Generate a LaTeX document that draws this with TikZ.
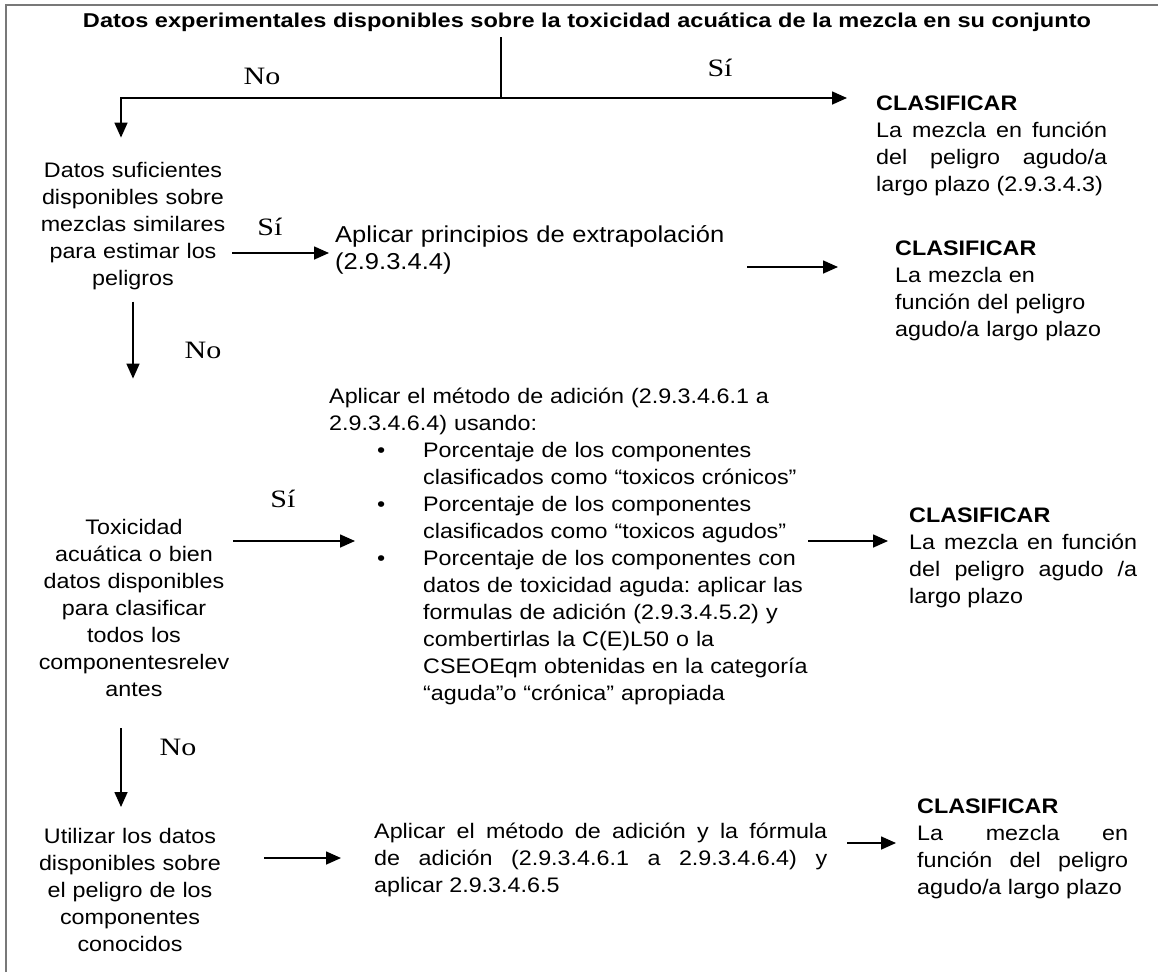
\documentclass[tikz,border=0pt]{standalone}
\usepackage{fontspec}
\usepackage{graphicx}
\usetikzlibrary{arrows.meta}
\newfontfamily\bodyf{Liberation Sans}[FakeStretch=1.11]
\newfontfamily\serifl{Liberation Serif}[FakeStretch=1.2]
\newfontfamily\titlef{Liberation Sans}
\definecolor{framegray}{RGB}{120,120,120}
\newcommand\myitem[1]{\par\hangindent=94pt\hangafter=0\noindent\llap{\textbullet\hspace{38pt}}#1\par}
\frenchspacing
\begin{document}
\begin{tikzpicture}[x=1pt,y=-1pt,
  txt/.style={inner sep=0pt, font=\bodyf\frenchspacing\fontsize{21}{27}\selectfont},
  lbl/.style={inner sep=0pt, font=\serifl\fontsize{25}{30}\selectfont, anchor=base},
  conn/.style={line width=1.6pt, draw=black},
  arr/.style={conn, -{Triangle[length=15pt,width=13pt]}},
  framel/.style={line width=1.8pt, draw=framegray}
]
\useasboundingbox (0,0) rectangle (1158,972);
\draw[framel] (6,972) -- (6,5) -- (1158,5);

% title
\node[inner sep=0pt, anchor=base] (title) at (587,27)
  {\resizebox{1008pt}{\height}{\titlef\bfseries\fontsize{20}{23}\selectfont Datos experimentales disponibles sobre la toxicidad acuática de la mezcla en su conjunto}};

% nodes
\node[txt, anchor=base west, text width=231pt, align=justify] (c1) at (876,110)
  {\textbf{CLASIFICAR}\\La mezcla en función\linebreak del peligro agudo/a\linebreak largo plazo (2.9.3.4.3)};
\node[txt, anchor=base, text width=198pt, align=center] (n1) at (133,177)
  {Datos suficientes\\disponibles sobre\\mezclas similares\\para estimar los\\peligros};
\node[txt, anchor=base west, text width=413pt, align=left,
      font=\bodyf\fontsize{23}{27}\selectfont] (b2) at (335,242)
  {Aplicar principios de extrapolación\\(2.9.3.4.4)};
\node[txt, anchor=base west, text width=220pt, align=left] (c2) at (895,255)
  {\textbf{CLASIFICAR}\\La mezcla en\\función del peligro\\agudo/a largo plazo};
\node[txt, anchor=base west, text width=479pt, align=left] (b3) at (329,403)
  {Aplicar el método de adición (2.9.3.4.6.1 a\\2.9.3.4.6.4) usando:
   \myitem{Porcentaje de los componentes\newline clasificados como “toxicos crónicos”}
   \myitem{Porcentaje de los componentes\newline clasificados como “toxicos agudos”}
   \myitem{Porcentaje de los componentes con\newline datos de toxicidad aguda: aplicar las\newline formulas de adición (2.9.3.4.5.2) y\newline combertirlas la C(E)L50 o la\newline CSEOEqm obtenidas en la categoría\newline “aguda”o “crónica” apropiada}};
\node[txt, anchor=base, text width=198pt, align=center] (n2) at (134,534)
  {Toxicidad\\acuática o bien\\datos disponibles\\para clasificar\\todos los\\componentesrelev\\antes};
\node[txt, anchor=base west, text width=228pt, align=justify] (c3) at (909,522)
  {\textbf{CLASIFICAR}\\La mezcla en función\linebreak del peligro agudo /a\linebreak largo plazo};
\node[txt, anchor=base, text width=198pt, align=center] (n3) at (130,843)
  {Utilizar los datos\\disponibles sobre\\el peligro de los\\componentes\\conocidos};
\node[txt, anchor=base west, text width=453pt, align=justify] (b4) at (374,838)
  {Aplicar el método de adición y la fórmula\linebreak de adición (2.9.3.4.6.1 a 2.9.3.4.6.4) y\linebreak aplicar 2.9.3.4.6.5};
\node[txt, anchor=base west, text width=211pt, align=justify] (c4) at (917,813)
  {\textbf{CLASIFICAR}\\La mezcla en\linebreak función del peligro\linebreak agudo/a largo plazo};

% labels
\node[lbl] (no1) at (262,84) {No};
\node[lbl] (si1) at (720,76) {Sí};
\node[lbl] (si2) at (270,235) {Sí};
\node[lbl] (no2) at (203,358) {No};
\node[lbl] (si3) at (283,507) {Sí};
\node[lbl] (no3) at (178,755) {No};

% connectors
\coordinate (split) at (501,98);
\coordinate (lb) at (121,98);
\coordinate (s3tip) at (355,541);
\coordinate (d3a) at (121,728);
\coordinate (d3b) at (121,807);
\draw[conn, shorten <=6pt] (title.south -| split) -- (split);
\draw[arr, shorten >=29pt] (split) -- (split -| c1.west);
\draw[arr, shorten >=24pt] (split) -- (lb) -- (lb |- n1.north);
\draw[arr, shorten >=6pt] (n1.east |- 0,253) -- (b2.west |- 0,253);
\draw[arr, shorten <=-1pt, shorten >=57pt] (b2.east |- 0,267) -- (c2.west |- 0,267);
\draw[arr, shorten <=12pt, shorten >=140pt] (n1.south) -- (n1.south |- n2.north);
\draw[arr] (n2.east |- s3tip) -- (s3tip);
\draw[arr, shorten >=21pt] (b3.east |- 0,541) -- (c3.west |- 0,541);
\draw[arr] (d3a) -- (d3b);
\draw[arr, shorten <=35pt, shorten >=33pt] (n3.east |- 0,858) -- (b4.west |- 0,858);
\draw[arr, shorten <=20pt, shorten >=21pt] (b4.east |- 0,843) -- (c4.west |- 0,843);
\end{tikzpicture}
\end{document}
